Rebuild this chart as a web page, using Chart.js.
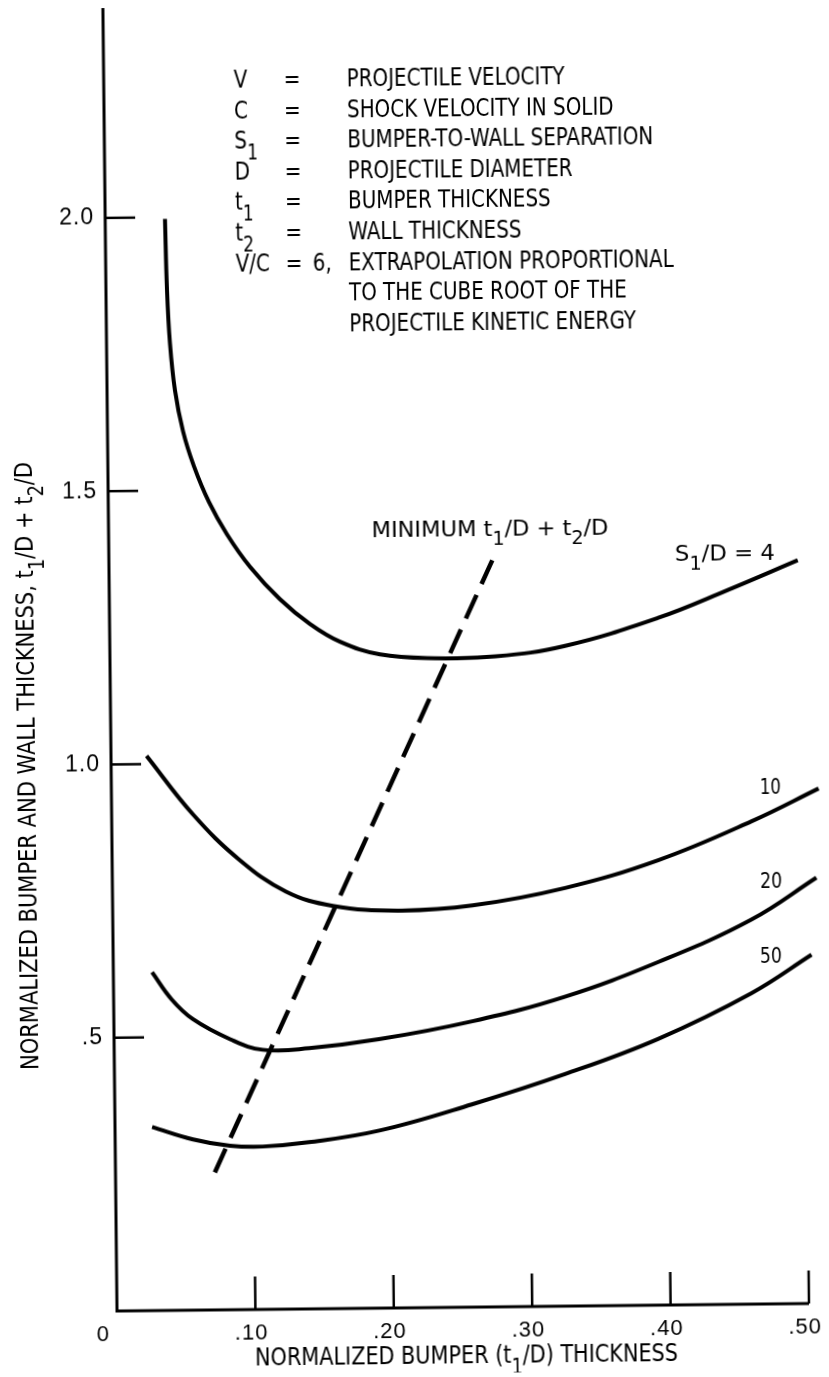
<!DOCTYPE html>
<html>
<head>
<meta charset="utf-8">
<script src="https://cdn.jsdelivr.net/npm/chart.js@4.4.1/dist/chart.umd.min.js"></script>
<style>
  html, body { margin: 0; padding: 0; background: #fff; }
  #wrap { width: 829px; height: 1377px; overflow: hidden; }
  /* the scanned figure sits slightly tilted */
  #chart { display: block; transform: rotate(-0.62deg); transform-origin: 117px 1311px; }
</style>
</head>
<body>
<div id="wrap"><canvas id="chart" width="829" height="1377"></canvas></div>
<script>
// values: x = t1/D, y = t1/D + t2/D
const s4X = [0.0432, 0.0441, 0.0458, 0.0491, 0.0546, 0.0622, 0.0728, 0.0855, 0.1019, 0.1233, 0.1448, 0.1663, 0.1952, 0.2348, 0.2785, 0.329, 0.396, 0.447, 0.4977];
const s4Y = [1.997, 1.868, 1.771, 1.683, 1.608, 1.544, 1.478, 1.419, 1.359, 1.299, 1.253, 1.22, 1.196, 1.188, 1.19, 1.208, 1.257, 1.307, 1.36];

const s10X = [0.0257, 0.0588, 0.092, 0.1254, 0.159, 0.206, 0.26, 0.327, 0.3945, 0.462, 0.511];
const s10Y = [1.015, 0.907, 0.823, 0.764, 0.737, 0.727, 0.735, 0.765, 0.814, 0.883, 0.942];

const s20X = [0.028, 0.0419, 0.0571, 0.0839, 0.1074, 0.141, 0.1914, 0.259, 0.326, 0.394, 0.461, 0.5087];
const s20Y = [0.619, 0.569, 0.5325, 0.495, 0.475, 0.477, 0.492, 0.523, 0.566, 0.628, 0.703, 0.779];

const s50X = [0.0268, 0.0563, 0.083, 0.1066, 0.14, 0.191, 0.258, 0.3256, 0.393, 0.4607, 0.5046];
const s50Y = [0.336, 0.3125, 0.3, 0.298, 0.305, 0.325, 0.371, 0.4246, 0.487, 0.5686, 0.638];

const minX = [0.0718, 0.277];
const minY = [0.2517, 1.366];

const xTicks = [0, 0.1, 0.2, 0.3, 0.4, 0.5];
const xTickLabels = ["0", ".10", ".20", ".30", ".40", ".50"];
const yTicks = [0.5, 1.0, 1.5, 2.0];
const yTickLabels = [".5", "1.0", "1.5", "2.0"];

const curveNames = ["S_1/D = 4", "10", "20", "50"];
const legendSymbols = ["V", "C", "S_1", "D", "t_1", "t_2", "V/C"];
const legendTexts = [
  "PROJECTILE VELOCITY",
  "SHOCK VELOCITY IN SOLID",
  "BUMPER-TO-WALL SEPARATION",
  "PROJECTILE DIAMETER",
  "BUMPER THICKNESS",
  "WALL THICKNESS",
  "EXTRAPOLATION PROPORTIONAL",
  "TO THE CUBE ROOT OF THE",
  "PROJECTILE KINETIC ENERGY"
];

const NARROW = '"DejaVu Sans Condensed", "Liberation Sans Narrow", sans-serif';
const PLAIN = '"Liberation Sans", "DejaVu Sans", sans-serif';

function toPoints(xs, ys) {
  return xs.map((x, i) => ({ x: x, y: ys[i] }));
}

// "t_1/D" -> t, subscript 1, /D
function splitSubs(str) {
  const out = [];
  let buf = "";
  for (let i = 0; i < str.length; i++) {
    if (str[i] === "_") {
      if (buf) out.push([buf, false]);
      buf = "";
      out.push([str[i + 1], true]);
      i++;
    } else {
      buf += str[i];
    }
  }
  if (buf) out.push([buf, false]);
  return out;
}

function richWidth(ctx, segs, size) {
  let w = 0;
  segs.forEach(([t, sub]) => {
    ctx.font = (sub ? size * 0.85 : size) + "px " + NARROW;
    w += ctx.measureText(t).width;
  });
  return w;
}

function drawRich(ctx, str, x, y, size, opts) {
  opts = opts || {};
  const segs = splitSubs(str);
  const w = richWidth(ctx, segs, size);
  const sx = opts.width ? opts.width / w : (opts.sx || 1);
  ctx.save();
  ctx.translate(x, y);
  if (opts.rotate) ctx.rotate(opts.rotate);
  ctx.scale(sx, 1);
  let cx = opts.align === "center" ? -w / 2 : 0;
  ctx.textAlign = "left";
  ctx.textBaseline = "alphabetic";
  ctx.fillStyle = "#000";
  segs.forEach(([t, sub]) => {
    ctx.font = (sub ? size * 0.85 : size) + "px " + NARROW;
    ctx.fillText(t, cx, sub ? size * 0.42 : 0);
    cx += ctx.measureText(t).width;
  });
  ctx.restore();
}

const figurePlugin = {
  id: "figure",
  afterDraw(chart) {
    const ctx = chart.ctx;
    const xs = chart.scales.x;
    const ys = chart.scales.y;
    const a = chart.chartArea;

    // axes
    ctx.save();
    ctx.strokeStyle = "#000";
    ctx.lineWidth = 3;
    ctx.beginPath();
    ctx.moveTo(a.left, a.top);
    ctx.lineTo(a.left, a.bottom);
    ctx.lineTo(xs.getPixelForValue(0.5), a.bottom);
    ctx.stroke();

    // inward tick marks
    ctx.lineWidth = 2.5;
    xTicks.forEach((v) => {
      if (v === 0) return;
      const px = xs.getPixelForValue(v);
      ctx.beginPath();
      ctx.moveTo(px, a.bottom);
      ctx.lineTo(px, a.bottom - 33);
      ctx.stroke();
    });
    yTicks.forEach((v) => {
      const py = ys.getPixelForValue(v);
      ctx.beginPath();
      ctx.moveTo(a.left, py);
      ctx.lineTo(a.left + 30, py);
      ctx.stroke();
    });

    // tick labels
    ctx.fillStyle = "#000";
    ctx.letterSpacing = "1px";
    ctx.font = "23px " + PLAIN;
    ctx.textAlign = "right";
    ctx.textBaseline = "middle";
    yTicks.forEach((v, i) => {
      ctx.fillText(yTickLabels[i], a.left - 11, ys.getPixelForValue(v));
    });
    ctx.font = "22px " + PLAIN;
    ctx.textAlign = "center";
    ctx.textBaseline = "alphabetic";
    xTicks.forEach((v, i) => {
      const shift = v === 0 ? -14 : -4;
      ctx.fillText(xTickLabels[i], xs.getPixelForValue(v) + shift, a.bottom + 30);
    });
    ctx.letterSpacing = "0px";

    // axis titles
    drawRich(ctx, "NORMALIZED BUMPER (t_1/D) THICKNESS", 466, a.bottom + 56, 25, { width: 423, align: "center" });
    drawRich(ctx, "NORMALIZED BUMPER AND WALL THICKNESS, t_1/D + t_2/D", 41, 765, 25, { width: 608, align: "center", rotate: -Math.PI / 2 });

    // definitions block
    ctx.font = "25px " + NARROW;
    const sq = 325 / ctx.measureText("EXTRAPOLATION PROPORTIONAL").width;
    legendTexts.forEach((t, i) => {
      const by = 89 + 30.6 * i;
      if (i < legendSymbols.length) {
        drawRich(ctx, legendSymbols[i], 247, by, 25, { sx: sq });
        drawRich(ctx, "=", 297, by, 25, { sx: sq });
      }
      if (i === 6) drawRich(ctx, "6,", 324, by, 25, { sx: sq });
      drawRich(ctx, t, 360, by, 25, { sx: sq });
    });

    // curve and line labels
    drawRich(ctx, "MINIMUM t_1/D + t_2/D", xs.getPixelForValue(0.19), ys.getPixelForValue(1.411), 22, { width: 237 });
    const labelAt = [[0.409, 1.361, 100], [0.4686, 0.933, 21], [0.468, 0.761, 22], [0.4673, 0.624, 22]];
    curveNames.forEach((name, i) => {
      const p = labelAt[i];
      drawRich(ctx, name, xs.getPixelForValue(p[0]), ys.getPixelForValue(p[1]), 22, { width: p[2] });
    });
    ctx.restore();
  }
};

function curve(xs, ys) {
  return {
    data: toPoints(xs, ys),
    showLine: true,
    borderColor: "#000",
    borderWidth: 4,
    pointRadius: 0,
    tension: 0.4,
    fill: false,
    clip: false
  };
}

const minLine = {
  data: toPoints(minX, minY),
  showLine: true,
  borderColor: "#000",
  borderWidth: 4.5,
  borderDash: [26, 12],
  pointRadius: 0,
  tension: 0,
  fill: false,
  clip: false
};

new Chart(document.getElementById("chart"), {
  type: "scatter",
  data: {
    datasets: [curve(s4X, s4Y), curve(s10X, s10Y), curve(s20X, s20Y), curve(s50X, s50Y), minLine]
  },
  options: {
    responsive: false,
    devicePixelRatio: 1,
    animation: false,
    events: [],
    layout: { padding: { left: 117, right: 20, top: 8, bottom: 66 } },
    scales: {
      x: { type: "linear", min: 0, max: 0.5, display: false },
      y: { type: "linear", min: 0, max: 2.384, display: false }
    },
    plugins: {
      legend: { display: false },
      tooltip: { enabled: false }
    }
  },
  plugins: [figurePlugin]
});
</script>
</body>
</html>
